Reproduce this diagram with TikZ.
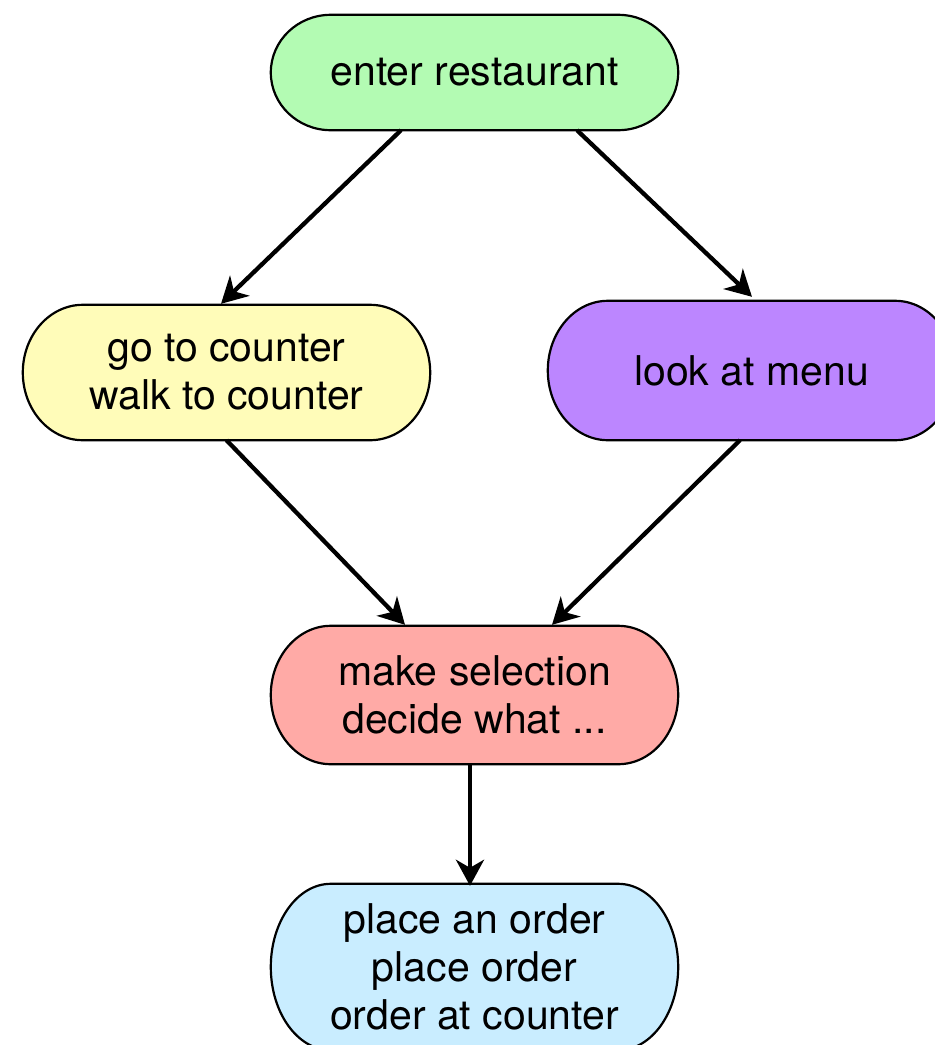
\documentclass[tikz,border=0pt]{standalone}
\usepackage{fontspec}
\setmainfont{TeX Gyre Heros}
\usetikzlibrary{arrows.meta,calc,backgrounds}

\definecolor{fillgreen}{HTML}{B3FBB3}
\definecolor{fillyellow}{HTML}{FFFCB9}
\definecolor{fillpurple}{HTML}{BC86FF}
\definecolor{fillpink}{HTML}{FFAAA6}
\definecolor{fillblue}{HTML}{C9EDFF}

% pill outline with elliptical ends, drawn behind a named node
\newcommand\pillshape[2]{%
  \begin{pgfonlayer}{background}
  \path[pillline, fill=#2]
    let \p1=(#1.north west), \p2=(#1.south east), \n1={(\y1-\y2)/2} in
    (\x1+60pt,\y1) -- (\x2-60pt,\y1)
    arc[start angle=90, end angle=-90, x radius=60pt, y radius=\n1]
    -- (\x1+60pt,\y2)
    arc[start angle=270, end angle=90, x radius=60pt, y radius=\n1]
    -- cycle;
  \end{pgfonlayer}}

\tikzset{
  stepnode/.style={rectangle, minimum width=407pt, inner sep=0pt, align=center,
    font=\fontsize{41}{48}\selectfont},
  pillline/.style={draw=black, line width=2.2pt},
  arr/.style={line width=4.3pt, -{Stealth[length=26pt, width=28pt, inset=8pt]}}
}

\begin{document}
\begin{tikzpicture}[x=1pt, y=-1pt]
\clip (0,0) rectangle (935,1045);

\node[stepnode, minimum height=115pt] (enter) at (474.5,72.5) {enter restaurant};
\node[stepnode, minimum height=135pt] (go) at (226.5,372.5) {go to counter\\walk to counter};
\node[stepnode, minimum height=139pt] (look) at (751.5,370.5) {look at menu};
\node[stepnode, minimum height=138pt] (make) at (474.5,695) {make selection\\decide what ...};
\node[stepnode, minimum height=166pt] (place) at (474.5,967) {place an order\\place order\\order at counter};

\begin{pgfonlayer}{background}
\fill[white] (0,0) rectangle (935,1045);
\end{pgfonlayer}
\pillshape{enter}{fillgreen}
\pillshape{go}{fillyellow}
\pillshape{look}{fillpurple}
\pillshape{make}{fillpink}
\pillshape{place}{fillblue}

\draw[arr] ([xshift=-73.5pt]enter.south) -- ([xshift=-5.5pt,yshift=1pt]go.north);
\draw[arr] ([xshift=102.5pt]enter.south) -- ([xshift=0.5pt,yshift=4pt]look.north);
\draw[arr] (go.south) -- ([xshift=-69.5pt,yshift=1pt]make.north);
\draw[arr] ([xshift=-11.5pt]look.south) -- ([xshift=77.5pt,yshift=1pt]make.north);
\draw[arr] ([xshift=-4.5pt]make.south) -- ([xshift=-4.5pt,yshift=-2pt]place.north);
\end{tikzpicture}
\end{document}
